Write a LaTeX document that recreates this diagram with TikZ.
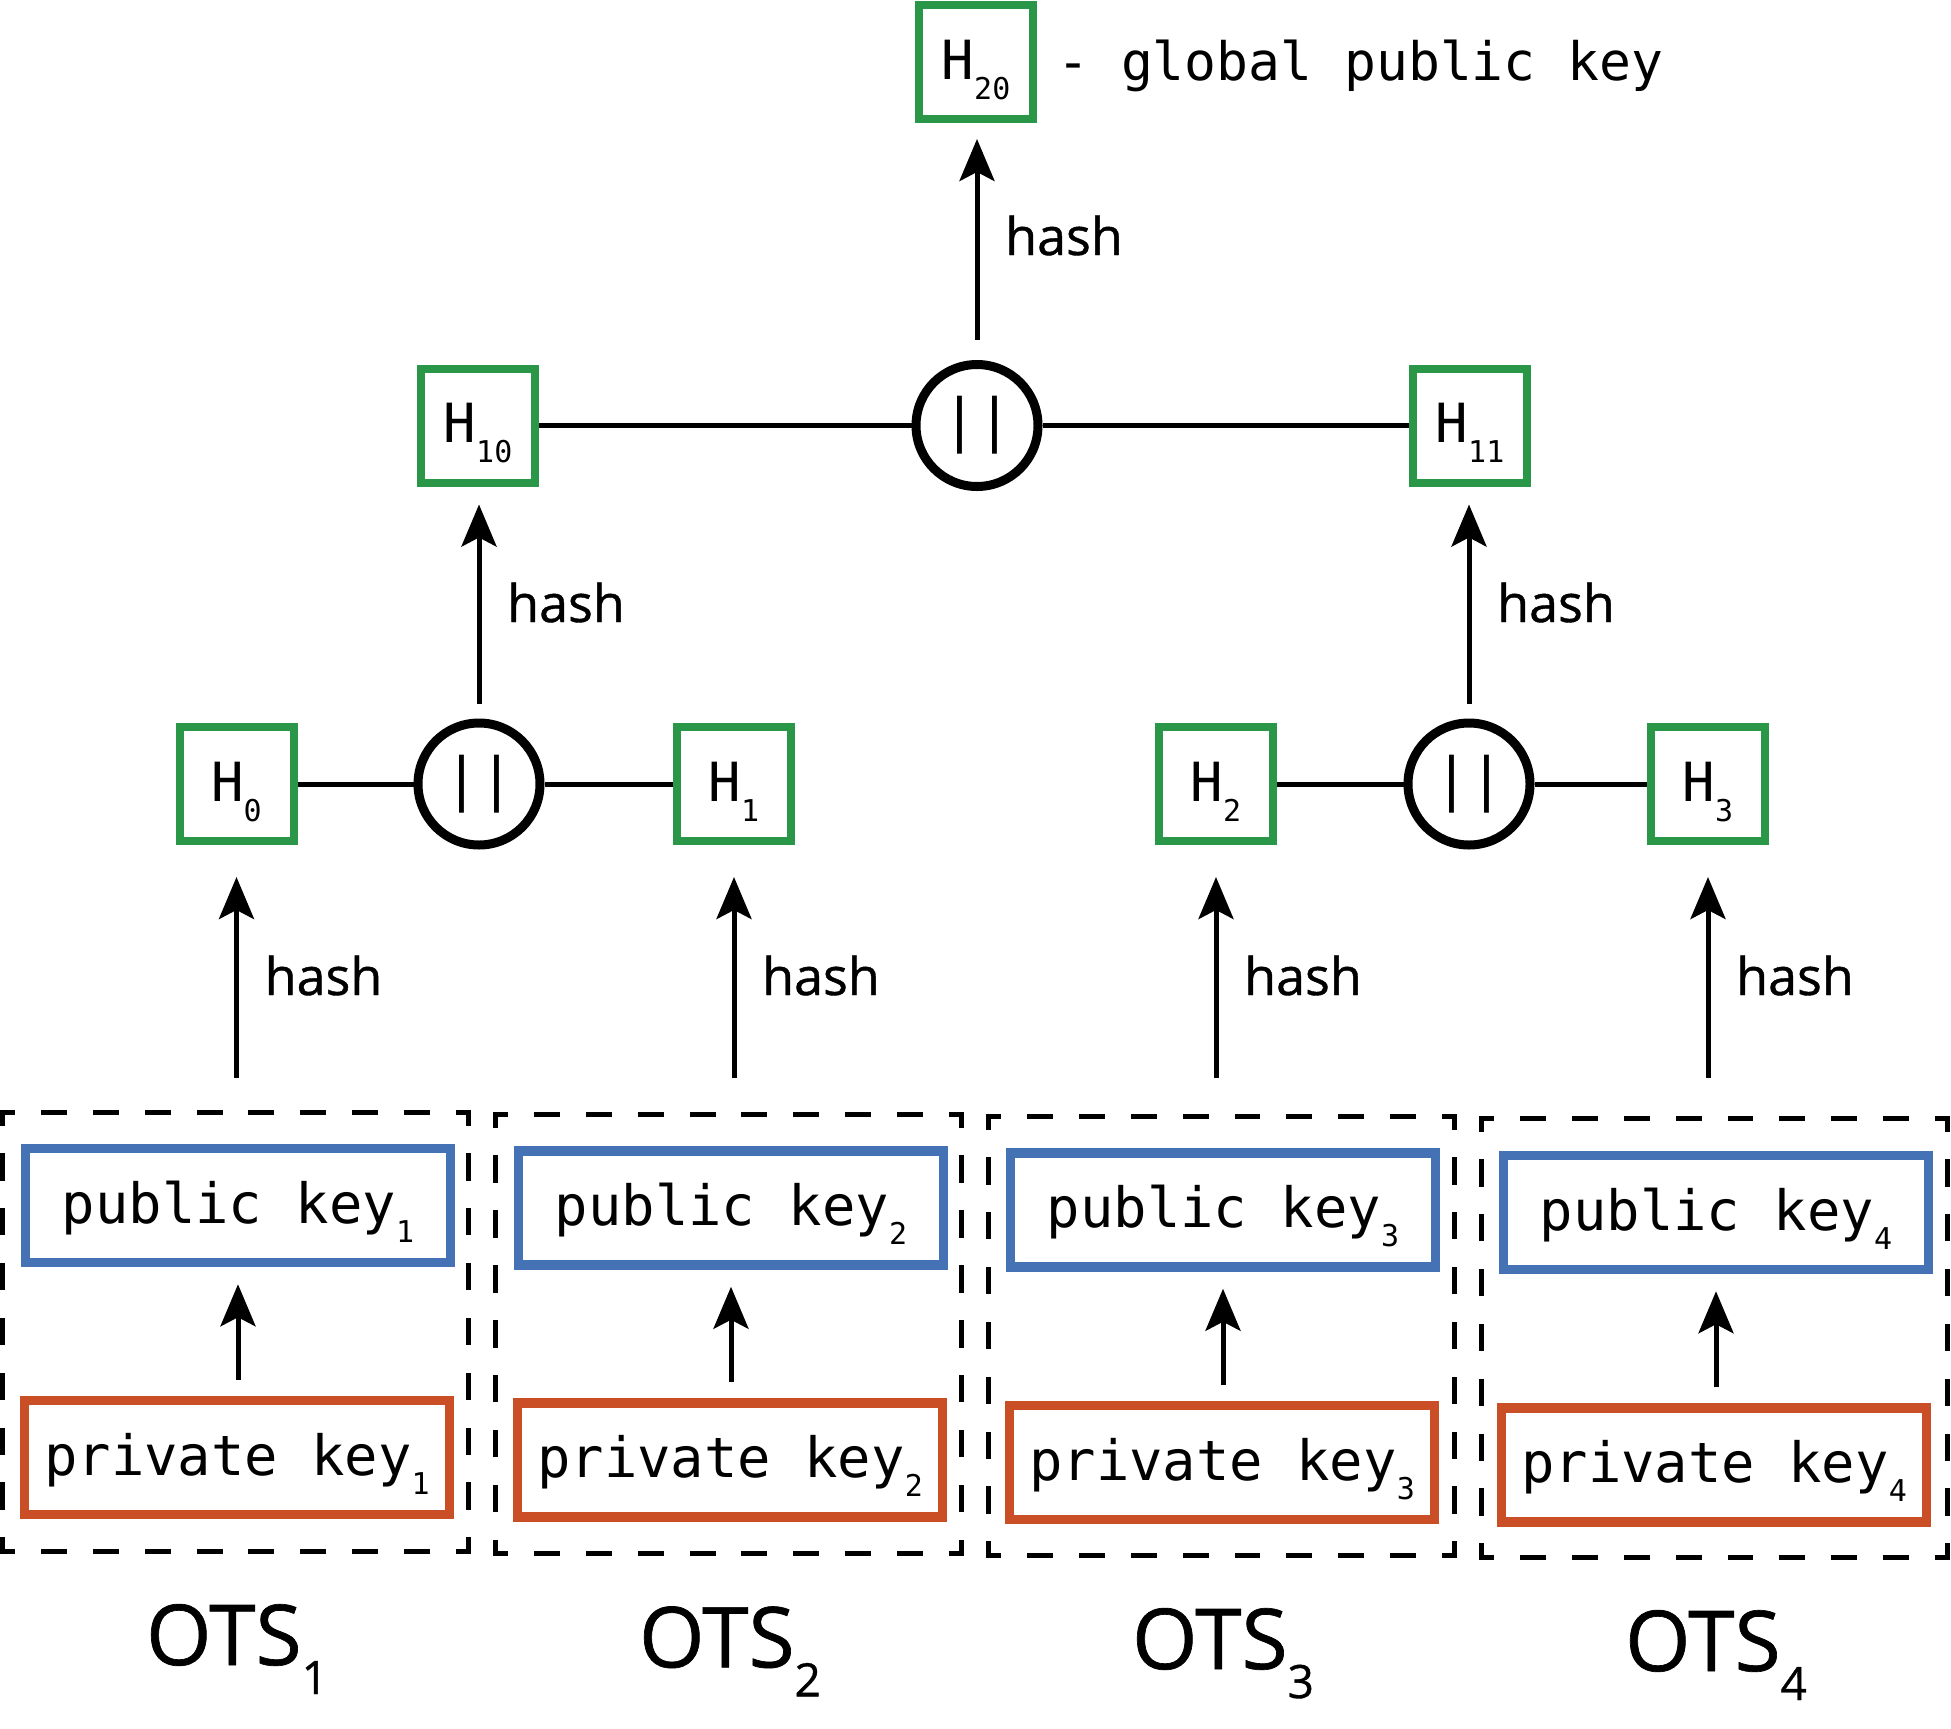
\documentclass[tikz,border=0pt]{standalone}
\usepackage{fontspec}
\newfontfamily\monof{DejaVu Sans Mono}
\newfontfamily\sansf{Open Sans}[FakeBold=0.8]
\usetikzlibrary{arrows.meta,calc}
\definecolor{hgreen}{RGB}{42,150,72}
\definecolor{kblue}{RGB}{69,114,180}
\definecolor{kred}{RGB}{202,78,38}
\newcommand\msub[1]{\raisebox{-19bp}{\fontsize{30bp}{30bp}\selectfont #1}}
\newcommand\hsub[1]{\raisebox{-20bp}{\fontsize{30bp}{30bp}\selectfont #1}}
\newcommand\osub[1]{\raisebox{-29bp}{\fontsize{46bp}{46bp}\selectfont #1}}
\begin{document}
\begin{tikzpicture}[x=1bp,y=-1bp,
  hbox/.style={draw=hgreen, line width=8bp, minimum width=114bp, minimum height=114bp, inner sep=0pt, text height=44bp, text depth=10bp, font=\monof\fontsize{54bp}{58bp}\selectfont},
  keybox/.style={line width=9.5bp, minimum width=425bp, minimum height=114bp, inner sep=0pt, text height=45bp, text depth=10bp, font=\monof\fontsize{55.5bp}{60bp}\selectfont},
  pubbox/.style={keybox, draw=kblue},
  privbox/.style={keybox, draw=kred},
  concat/.style={circle, draw, line width=9bp, minimum size=122bp, inner sep=0pt, font=\monof\fontsize{58bp}{60bp}\selectfont},
  otsframe/.style={minimum width=466.5bp, minimum height=439bp, inner sep=0pt, outer sep=0pt},
  dashH/.style={line width=5bp, line cap=rect, dash pattern=on 20.92bp off 30.92bp, dash phase=10.46bp},
  dashV/.style={line width=5bp, line cap=rect, dash pattern=on 22.44bp off 32.44bp, dash phase=11.22bp},
  arr/.style={line width=5bp, -{Stealth[length=42bp,width=35bp,inset=9bp]}},
  link/.style={line width=5bp},
  hashlbl/.style={anchor=base west, inner sep=0pt, font=\sansf\fontsize{52bp}{56bp}\selectfont},
  otslbl/.style={anchor=base, inner sep=0pt, font=\sansf\fontsize{84bp}{90bp}\selectfont},
  gtext/.style={anchor=base west, inner sep=0pt, font=\monof\fontsize{53bp}{58bp}\selectfont},
]
\useasboundingbox (0,0) rectangle (1951,1729);

% OTS frames
\node[otsframe] (D1) at (235.5,1331.5) {};
\node[otsframe] (D2) at (728.5,1333.8) {};
\node[otsframe] (D3) at (1221.5,1335.5) {};
\node[otsframe] (D4) at (1714.5,1337.5) {};
\foreach \d in {D1,D2,D3,D4}{
  \draw[dashH] (\d.north west) -- (\d.north east);
  \draw[dashH] (\d.south west) -- (\d.south east);
  \draw[dashV] (\d.north west) -- (\d.south west);
  \draw[dashV] (\d.north east) -- (\d.south east);
}

% key boxes
\node[pubbox] (P1) at (238,1205.5) {public key\msub{1}};
\node[pubbox] (P2) at (731,1208) {public key\msub{2}};
\node[pubbox] (P3) at (1223,1210) {public key\msub{3}};
\node[pubbox] (P4) at (1716,1212.5) {public key\msub{4}};
\node[privbox] (Q1) at (237,1457.5) {private key\msub{1}};
\node[privbox] (Q2) at (730,1460) {private key\msub{2}};
\node[privbox] (Q3) at (1222,1462.5) {private key\msub{3}};
\node[privbox] (Q4) at (1714,1465) {private key\msub{4}};

\foreach \i in {1,2,3,4}{
  \draw[arr, shorten <=16bp, shorten >=17bp] (Q\i.north -| P\i.south) -- (P\i.south);
}

% OTS labels
\node[otslbl] (O1) at ($(D1.south)+(1.5,114)$) {OTS\osub{1}};
\node[otslbl] (O2) at ($(D2.south)+(1.5,114)$) {OTS\osub{2}};
\node[otslbl] (O3) at ($(D3.south)+(1.5,114)$) {OTS\osub{3}};
\node[otslbl] (O4) at ($(D4.south)+(1.5,114)$) {OTS\osub{4}};

% leaf hashes
\node[hbox] (H0) at (236.5,784) {H\hsub{0}};
\node[hbox] (H1) at (734,784) {H\hsub{1}};
\node[hbox] (H2) at (1216,784) {H\hsub{2}};
\node[hbox] (H3) at (1708,784) {H\hsub{3}};
\node[concat] (C1) at (479,784) {||};
\node[concat] (C2) at (1469,784) {||};

\draw[link] (H0) -- (C1);
\draw[link] (C1) -- (H1);
\draw[link] (H2) -- (C2);
\draw[link] (C2) -- (H3);

\draw[arr, shorten <=34bp, shorten >=32bp] (H0 |- D1.north) -- (H0.south);
\draw[arr, shorten <=36bp, shorten >=32bp] (H1 |- D2.north) -- (H1.south);
\draw[arr, shorten <=38bp, shorten >=32bp] (H2 |- D3.north) -- (H2.south);
\draw[arr, shorten <=40bp, shorten >=32bp] (H3 |- D4.north) -- (H3.south);

\node[hashlbl] (L0) at (264.5,995) {hash};
\node[hashlbl] (L1) at (762,995) {hash};
\node[hashlbl] (L2) at (1244,995) {hash};
\node[hashlbl] (L3) at (1736,995) {hash};

% middle level
\node[hbox] (H10) at (478,425.5) {H\hsub{10}};
\node[hbox] (H11) at (1470,425.5) {H\hsub{11}};
\node[concat] (C0) at (977,425.5) {||};
\draw[link] (H10) -- (C0);
\draw[link] (C0) -- (H11);

\draw[arr, shorten <=15bp, shorten >=18bp] (C1.north) -- (C1.north |- H10.south);
\draw[arr, shorten <=15bp, shorten >=18bp] (C2.north) -- (C2.north |- H11.south);
\node[hashlbl] (L10) at (507,622) {hash};
\node[hashlbl] (L11) at (1497,622) {hash};

% root
\node[hbox] (H20) at (976,62) {H\hsub{20}};
\draw[arr, shorten <=20bp, shorten >=16bp] (C0.north) -- (C0.north |- H20.south);
\node[hashlbl] (L20) at (1005,255) {hash};
\node[gtext] (G) at (1057,80) {- global public key};
\end{tikzpicture}
\end{document}
